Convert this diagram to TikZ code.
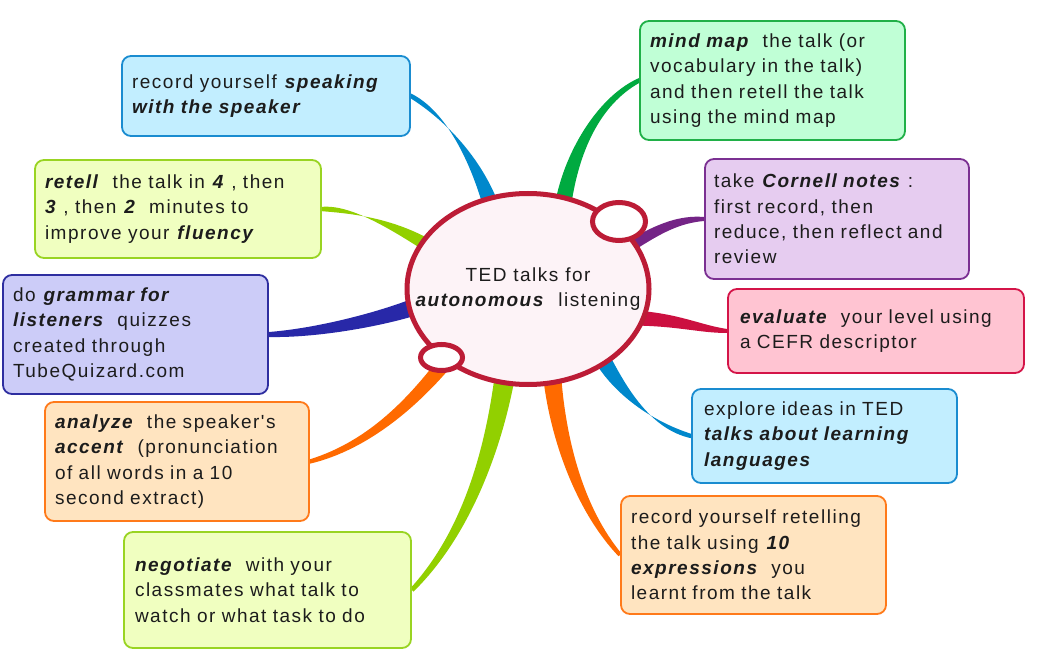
\documentclass[tikz,border=0pt]{standalone}
\usepackage{fontspec}
\setmainfont{Liberation Sans}[LetterSpace=8,Ligatures=TeXOff]
\usetikzlibrary{calc,shapes.geometric,backgrounds}
\definecolor{txt}{HTML}{1C1C1C}
\definecolor{blueF}{HTML}{C2EEFF}\definecolor{blueD}{HTML}{1A8CD0}\definecolor{blueB}{HTML}{0088CC}
\definecolor{ygF}{HTML}{F0FFC0}\definecolor{ygD}{HTML}{99D422}\definecolor{ygB}{HTML}{92D000}
\definecolor{lavF}{HTML}{CCCCF8}\definecolor{lavD}{HTML}{2E2EA0}\definecolor{lavB}{HTML}{2828A8}
\definecolor{orF}{HTML}{FFE4C0}\definecolor{orD}{HTML}{FF7A1A}\definecolor{orB}{HTML}{FF6A00}
\definecolor{mintF}{HTML}{C0FFD6}\definecolor{mintD}{HTML}{20B048}\definecolor{mintB}{HTML}{00AA40}
\definecolor{purF}{HTML}{E6CCF0}\definecolor{purD}{HTML}{7B3092}\definecolor{purB}{HTML}{742486}
\definecolor{pinkF}{HTML}{FFC4D2}\definecolor{pinkD}{HTML}{D41448}\definecolor{pinkB}{HTML}{CC1040}
\definecolor{cenF}{HTML}{FDF3F7}\definecolor{cenD}{HTML}{BC1C36}
\newcommand\bi[1]{\textbf{\textit{#1}}}
% colour, start, start half-offset, ctrl1, ctrl2, end, tip half-offset
\newcommand\branch[7]{%
  \fill[#1] ($#2+#3$) .. controls ($#4+0.85*#3$) and ($#5+2*#7$) .. ($#6+#7$)
    -- ($#6-#7$) .. controls ($#5-2*#7$) and ($#4-0.85*#3$) .. ($#2-#3$) -- cycle;}
\begin{document}
\begin{tikzpicture}[x=1pt,y=-1pt,
  mbox/.style={draw, rounded corners=9pt, line width=1.8pt, inner xsep=10pt, inner ysep=0pt,
    align=left, text=txt, font=\fontsize{19}{25.3}\selectfont},
  bubble/.style={ellipse, draw=cenD, line width=5pt, inner sep=0pt}]
\useasboundingbox (0,0) rectangle (1039,671);

\node[mbox, fill=blueF, draw=blueD, minimum width=288, minimum height=80, text width=268] (b1) at (266,96)
  {record yourself \bi{speaking}\\\bi{with the speaker}};
\node[mbox, fill=ygF, draw=ygD, minimum width=286, minimum height=98, text width=266] (b2) at (178,209)
  {\bi{retell}\ \ the talk in \bi{4} , then\\\bi{3} , then \bi{2}\ \ minutes to\\improve your \bi{fluency}};
\node[mbox, fill=lavF, draw=lavD, minimum width=265, minimum height=119, text width=245] (b3) at (135.5,334.5)
  {do \bi{grammar for}\\\bi{listeners}\ \ quizzes\\created through\\TubeQuizard.com};
\node[mbox, fill=orF, draw=orD, minimum width=264, minimum height=119, text width=244] (b4) at (177,461.5)
  {\bi{analyze}\ \ the speaker's\\\bi{accent}\ \ (pronunciation\\of all words in a 10\\second extract)};
\node[mbox, fill=ygF, draw=ygD, minimum width=287, minimum height=116, text width=265, inner xsep=11pt] (b5) at (267.5,590)
  {\bi{negotiate}\ \ with your\\classmates what talk to\\watch or what task to do};
\node[mbox, fill=mintF, draw=mintD, minimum width=265, minimum height=119, text width=245] (b6) at (772.5,80.5)
  {\bi{mind map}\ \ the talk (or\\vocabulary in the talk)\\and then retell the talk\\using the mind map};
\node[mbox, fill=purF, draw=purD, minimum width=264, minimum height=120, text width=246, inner xsep=9pt] (b7) at (837,219)
  {take \bi{Cornell notes} :\\first record, then\\reduce, then reflect and\\review};
\node[mbox, fill=pinkF, draw=pinkD, minimum width=296, minimum height=84, text width=272, inner xsep=12pt] (b8) at (876,331)
  {\bi{evaluate}\ \ your level using\\a CEFR descriptor};
\node[mbox, fill=blueF, draw=blueD, minimum width=265, minimum height=94, text width=241, inner xsep=12pt] (b9) at (824.5,436)
  {explore ideas in TED\\\bi{talks about learning}\\\bi{languages}};
\node[mbox, fill=orF, draw=orD, minimum width=265, minimum height=118, text width=245] (b10) at (753.5,555)
  {record yourself retelling\\the talk using \bi{10}\\\bi{expressions}\ \ you\\learnt from the talk};

\node[bubble, fill=cenF, minimum width=242, minimum height=191, align=center, text=txt,
  font=\fontsize{19}{25.3}\selectfont] (c) at (528,289)
  {\makebox[0pt]{TED talks for}\\\makebox[0pt]{\bi{autonomous}\ \ listening}};
\node[bubble, fill=white, minimum width=53, minimum height=38] (k1) at (619,221.5) {};
\node[bubble, fill=white, minimum width=42, minimum height=26] (k2) at (441.5,357.5) {};

\begin{scope}[on background layer]
\fill[white] (0,0) rectangle (1039,671);
\branch{blueB}{(494,215)}{(8.5,0)}{(478,160)}{(445,115)}{(b1.east)}{(0,2.5)}
\branch{ygB}{(432,248)}{(3.4,-5.5)}{(390,222)}{(350,209)}{(b2.east)}{(0,2.2)}
\branch{lavB}{(420,305)}{(2,8.5)}{(385,318)}{(320,333)}{(b3.east)}{(0,2.5)}
\branch{orB}{(447,360)}{(6,4.4)}{(415,400)}{(370,445)}{(b4.east)}{(0,2.2)}
\branch{ygB}{(505,375)}{(10,1.5)}{(495,440)}{(470,530)}{(b5.east)}{(1.6,1.6)}
\branch{mintB}{(563,205)}{(8,1.5)}{(572,150)}{(600,100)}{(b6.west)}{(0,2.5)}
\branch{purB}{(632,245)}{(2,5.5)}{(660,228)}{(680,219)}{(b7.west)}{(0,2)}
\branch{pinkB}{(635,318)}{(0,7.5)}{(680,320)}{(700,329)}{(b8.west)}{(0,2)}
\branch{blueB}{(602,358)}{(7,-4)}{(620,390)}{(650,425)}{(b9.west)}{(0,2.2)}
\branch{orB}{(552,375)}{(9,-1)}{(558,440)}{(580,510)}{(b10.west)}{(1.6,-1.2)}
\end{scope}
\end{tikzpicture}
\end{document}
